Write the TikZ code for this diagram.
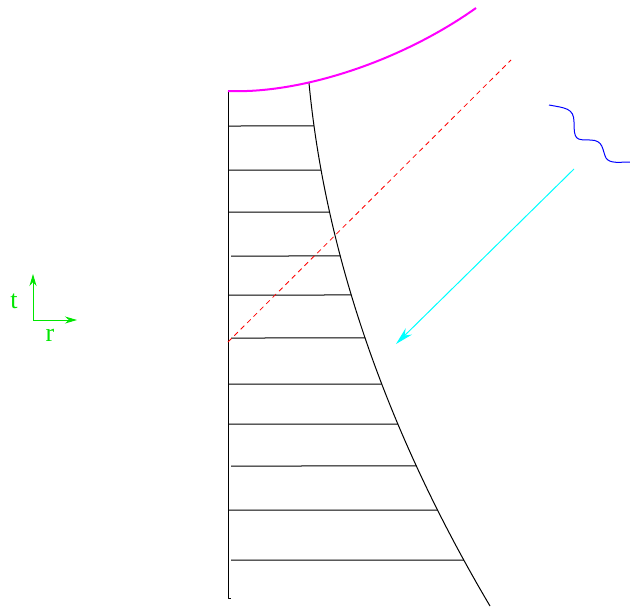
\documentclass[tikz,border=0pt]{standalone}
\usepackage{fontspec}
\setmainfont{Liberation Serif}
\usetikzlibrary{arrows.meta,intersections}

\definecolor{hzncol}{RGB}{255,0,255}
\definecolor{raycol}{RGB}{0,255,255}
\definecolor{axcol}{RGB}{0,230,0}

\begin{document}
\begin{tikzpicture}[x=1pt,y=-1pt,line join=round]
  \tikzstyle{rung}=[black,line width=1pt]
  \tikzstyle{axislabel}=[axcol,font=\fontsize{26}{26}\selectfont,inner sep=0pt]
  \tikzstyle{axisarrow}=[-{Stealth[length=12pt,width=7pt]},axcol,line width=1pt]
  \useasboundingbox (0,0) rectangle (630,608);

  % wall and boundary curve
  \coordinate (wtop) at (228,90);
  \coordinate (wbot) at (228,598);
  \draw [black,line width=1pt] (wtop) -- (wbot) -- ++(3,0);
  \coordinate (ctop) at (309,83);
  \coordinate (cbot) at (490,606);
  \draw [black,line width=1pt,name path=bdry]
    (ctop) .. controls (322,220) and (368,400) .. (cbot);

  % rungs
  \foreach \y/\xs in {126/228,170/228,212/228,256/231,295/228,338/231,
      384/228,424/228,466/231,510/228,560/231}
  {
    \path [name path=probe] (\xs,\y) -- (520,\y);
    \draw [rung,name intersections={of=probe and bdry,by=hit}] (\xs,\y) -- (hit);
  }

  % horizon
  \coordinate (hstart) at (228,91);
  \coordinate (hend) at (476,8);
  \draw [hzncol,line width=2pt] (hstart) .. controls (300,94) and (400,62) .. (hend);

  % light ray
  \coordinate (rstart) at (228,342);
  \coordinate (rend) at (511,60);
  \draw [red,dash pattern=on 5pt off 4pt,line width=0.8pt] (rstart) -- (rend);

  % incoming arrow
  \coordinate (astart) at (574,169);
  \coordinate (aend) at (396,344);
  \draw [-{Stealth[length=18pt,width=9pt]},raycol,line width=1pt] (astart) -- (aend);

  % wave
  \coordinate (wvstart) at (549,105);
  \coordinate (wvend) at (630,162);
  \draw [blue,line width=1pt] (wvstart) .. controls (565,108) and (574,108) .. (574,122)
    .. controls (574,140) and (576,140) .. (590,140)
    .. controls (604,140) and (602,150) .. (606,158)
    .. controls (610,164) and (620,162) .. (wvend);

  % axes
  \coordinate (o) at (33,320);
  \coordinate (tt) at (33,274);
  \coordinate (rr) at (77,320);
  \draw [axisarrow] (o) -- (tt);
  \draw [axisarrow] (o) -- (rr);
  \node [axislabel] (tlab) at (14,301) {t};
  \node [axislabel] (rlab) at (50,335) {r};
\end{tikzpicture}
\end{document}
